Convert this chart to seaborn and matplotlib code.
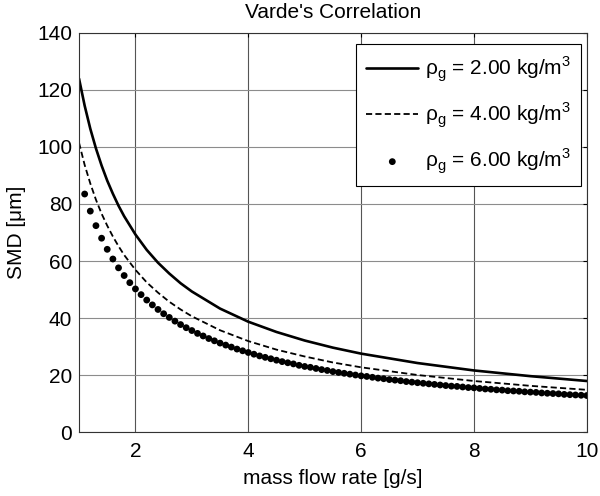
import numpy as np
import pandas as pd
import seaborn as sns
import matplotlib
matplotlib.use('Agg')
import matplotlib.pyplot as plt

# mass flow rate [g/s] for the two line curves
flow_line = [1.0, 1.1, 1.2, 1.3, 1.4, 1.5, 1.6, 1.7, 1.8, 2.0, 2.2, 2.4, 2.6, 2.8,
             3.0, 3.5, 4.0, 4.5, 5.0, 5.5, 6.0, 7.0, 8.0, 9.0, 10.0]
# SMD [um]
smd_rho2 = [124.0, 114.5, 106.4, 99.5, 93.5, 88.2, 83.6, 79.4, 75.7, 69.3, 63.9, 59.4,
            55.6, 52.2, 49.3, 43.3, 38.7, 35.1, 32.1, 29.6, 27.5, 24.2, 21.6, 19.6, 17.9]
smd_rho4 = [101.5, 93.7, 87.2, 81.5, 76.6, 72.4, 68.6, 65.2, 62.1, 56.9, 52.5, 48.9,
            45.7, 43.0, 40.6, 35.7, 31.9, 28.9, 26.5, 24.4, 22.7, 20.0, 17.9, 16.2, 14.8]

# dotted series, one dot every 0.1 g/s from 1.1 to 10.0
flow_dots = [1.1, 1.2, 1.3, 1.4, 1.5, 1.6, 1.7, 1.8, 1.9, 2.0,
             2.1, 2.2, 2.3, 2.4, 2.5, 2.6, 2.7, 2.8, 2.9, 3.0,
             3.1, 3.2, 3.3, 3.4, 3.5, 3.6, 3.7, 3.8, 3.9, 4.0,
             4.1, 4.2, 4.3, 4.4, 4.5, 4.6, 4.7, 4.8, 4.9, 5.0,
             5.1, 5.2, 5.3, 5.4, 5.5, 5.6, 5.7, 5.8, 5.9, 6.0,
             6.1, 6.2, 6.3, 6.4, 6.5, 6.6, 6.7, 6.8, 6.9, 7.0,
             7.1, 7.2, 7.3, 7.4, 7.5, 7.6, 7.7, 7.8, 7.9, 8.0,
             8.1, 8.2, 8.3, 8.4, 8.5, 8.6, 8.7, 8.8, 8.9, 9.0,
             9.1, 9.2, 9.3, 9.4, 9.5, 9.6, 9.7, 9.8, 9.9, 10.0]
smd_rho6 = [83.5, 77.5, 72.4, 68.0, 64.1, 60.7, 57.6, 54.9, 52.4, 50.2,
            48.2, 46.3, 44.6, 43.0, 41.5, 40.2, 38.9, 37.7, 36.6, 35.6,
            34.6, 33.7, 32.8, 32.0, 31.2, 30.5, 29.8, 29.1, 28.5, 27.9,
            27.3, 26.7, 26.2, 25.7, 25.2, 24.7, 24.3, 23.9, 23.4, 23.0,
            22.7, 22.3, 21.9, 21.6, 21.2, 20.9, 20.6, 20.3, 20.0, 19.7,
            19.5, 19.2, 18.9, 18.7, 18.4, 18.2, 18.0, 17.7, 17.5, 17.3,
            17.1, 16.9, 16.7, 16.5, 16.3, 16.1, 16.0, 15.8, 15.6, 15.5,
            15.3, 15.1, 15.0, 14.8, 14.7, 14.5, 14.4, 14.3, 14.1, 14.0,
            13.9, 13.7, 13.6, 13.5, 13.4, 13.2, 13.1, 13.0, 12.9, 12.8]

labels = ['ρ$_\\mathregular{g}$ = 2.00 kg/m$^\\mathregular{3}$',
          'ρ$_\\mathregular{g}$ = 4.00 kg/m$^\\mathregular{3}$',
          'ρ$_\\mathregular{g}$ = 6.00 kg/m$^\\mathregular{3}$']
x_ticks = [2, 4, 6, 8, 10]
y_ticks = [0, 20, 40, 60, 80, 100, 120, 140]

FS = 15

sns.set_style('white')
plt.rcParams['font.family'] = ['Liberation Sans', 'DejaVu Sans']
plt.rcParams['font.size'] = FS
plt.rcParams['text.color'] = 'black'
plt.rcParams['axes.labelcolor'] = 'black'

fig = plt.figure(figsize=(6, 4.96), dpi=100)
ax = fig.add_axes([0.1317, 0.129, 0.8463, 0.8045])

sns.lineplot(x=flow_line, y=smd_rho2, color='k', lw=1.9, ax=ax, label=labels[0])
sns.lineplot(x=flow_line, y=smd_rho4, color='k', lw=1.3, ax=ax, label=labels[1])
ax.lines[-1].set_dashes((3.4, 1.8))
sns.scatterplot(x=flow_dots, y=smd_rho6, color='k', s=24, edgecolor='none',
                ax=ax, label=labels[2], zorder=3)

ax.set_xlim(1, 10)
ax.set_ylim(0, 140)
ax.set_xticks(x_ticks)
ax.set_yticks(y_ticks)
ax.grid(True, axis='x', color='#555555', lw=0.8)
ax.grid(True, axis='y', color='#8c8c8c', lw=0.8)
ax.tick_params(direction='in', top=True, right=True, length=3, width=0.8,
               labelsize=FS, colors='k')
ax.tick_params(axis='x', pad=7)
ax.tick_params(axis='y', pad=5)
for s in ax.spines.values():
    s.set_color('#333333')
    s.set_linewidth(0.8)

ax.set_title("Varde's Correlation", fontsize=FS, y=1.0, pad=10.5)
ax.set_xlabel('mass flow rate [g/s]', fontsize=FS, labelpad=6)
ax.set_ylabel('SMD [μm]', fontsize=FS, labelpad=8)

leg = ax.legend(loc='upper right', bbox_to_anchor=(0.9885, 0.9725), fancybox=False,
                edgecolor='k', framealpha=1, handlelength=2.5, handletextpad=0.3,
                labelspacing=0.8, borderpad=0.5, fontsize=FS, borderaxespad=0)
leg.get_frame().set_linewidth(0.8)

fig.savefig('out.png', dpi=100)
